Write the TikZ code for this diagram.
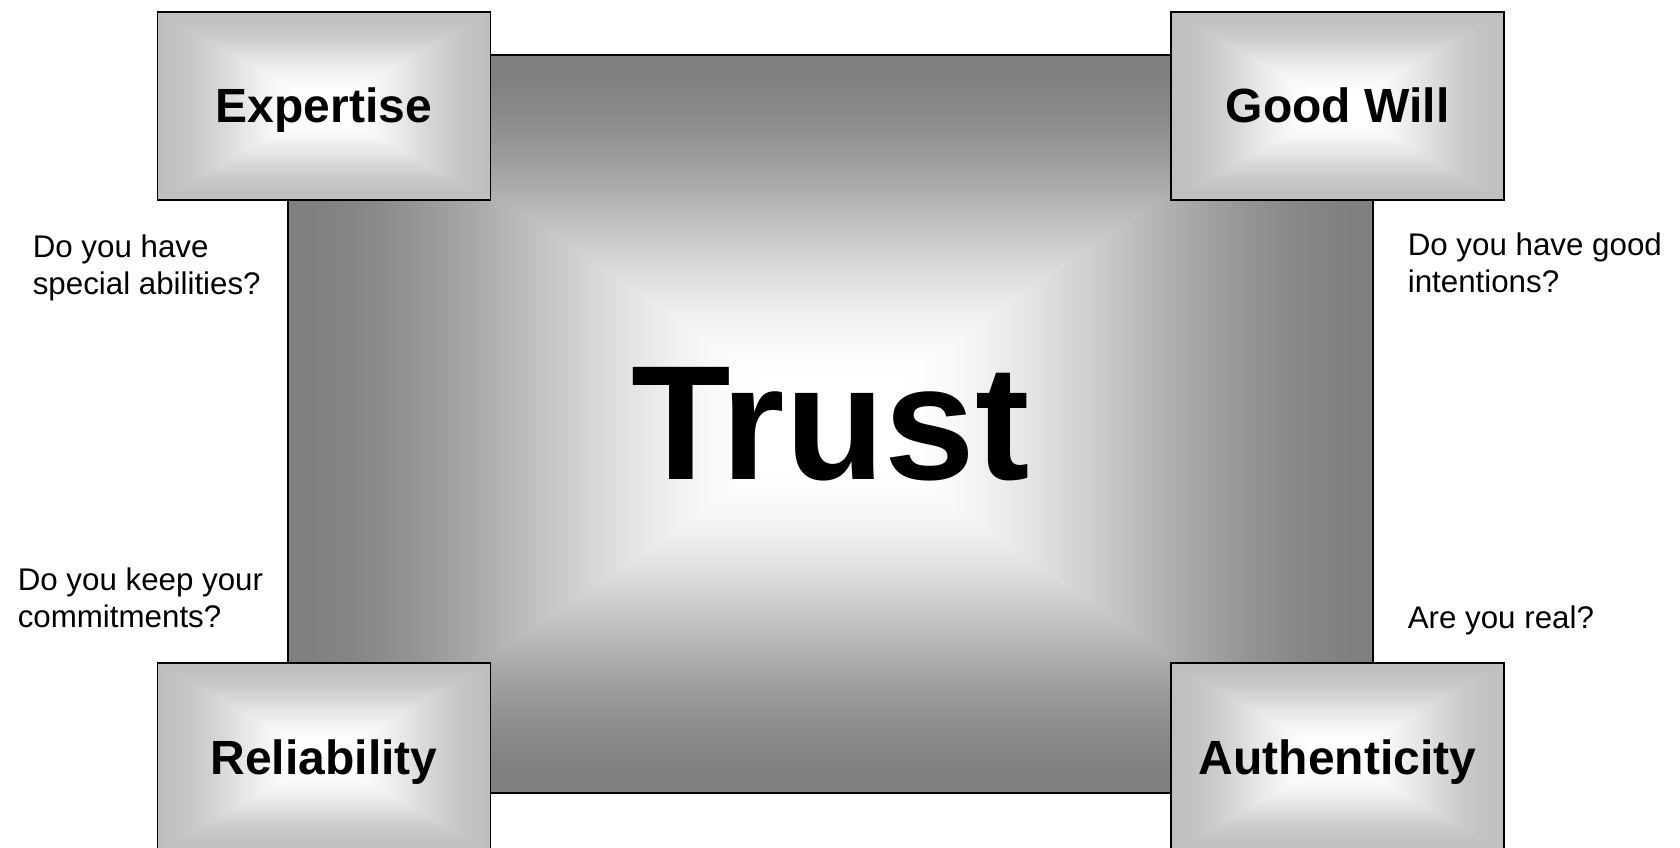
\documentclass[tikz,border=0pt]{standalone}
\usepackage{fontspec}
\setmainfont{Liberation Sans}
\usepackage{tikz}

% rectangular gradient, white in the middle
\pgfdeclarefunctionalshading{trustfill}{\pgfpointorigin}{\pgfpoint{100bp}{100bp}}{}{
50 sub abs 25 div exch 50 sub abs 25 div
2 copy lt {exch} if pop
0.1 sub 0.9 div
dup 0 lt {pop 0} if dup 1 gt {pop 1} if
dup dup mul exch 2 mul 3 exch sub mul
0.5 mul 1 exch sub
dup dup
}
\pgfdeclarefunctionalshading{cornerfill}{\pgfpointorigin}{\pgfpoint{100bp}{100bp}}{}{
50 sub abs 25 div exch 50 sub abs 25 div
2 copy lt {exch} if pop
0.1 sub 0.9 div
dup 0 lt {pop 0} if dup 1 gt {pop 1} if
dup dup mul exch 2 mul 3 exch sub mul
0.25 mul 1 exch sub
dup dup
}

\begin{document}
\begin{tikzpicture}[x=1pt,y=-1pt,line width=1.6pt,
  corner/.style={draw,shade,shading=cornerfill,minimum width=333pt,minimum height=188pt,inner sep=0pt,
    font=\fontsize{48}{56}\selectfont\bfseries,text height=34pt,text depth=0pt},
  question/.style={anchor=north west,inner sep=0pt,align=left,font=\fontsize{31.3}{37}\selectfont}]
\useasboundingbox (0,0) rectangle (1680,848);
\node[draw,shade,shading=trustfill,minimum width=1085pt,minimum height=738pt,inner sep=0pt,
  font=\fontsize{163}{190}\selectfont\bfseries] (trust) at (830.5,424) {Trust};
\node[corner] (expertise) at (324,106) {Expertise};
\node[corner] (goodwill) at (1337.5,106) {Good Will};
\node[corner] (reliability) at (324,757) {Reliability};
\node[corner] (authenticity) at (1337.5,757) {Authenticity};
\node[question] (qexpertise) at (32,234) {Do you have\\special abilities?};
\node[question] (qreliability) at (17,567) {Do you keep your\\commitments?};
\node[question] (qgoodwill) at (1407,232) {Do you have good\\intentions?};
\node[question] (qauthenticity) at (1407,605) {Are you real?};
\end{tikzpicture}
\end{document}
